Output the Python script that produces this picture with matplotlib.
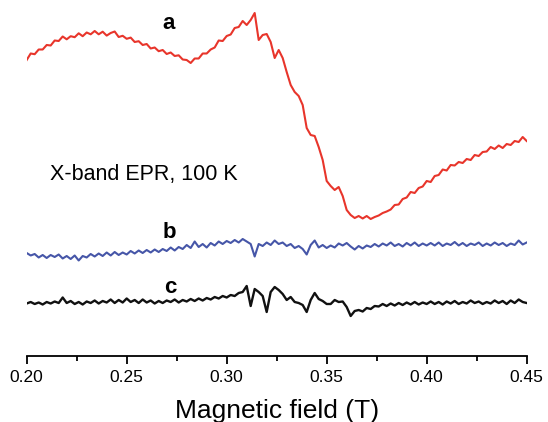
import matplotlib
matplotlib.use("Agg")
import matplotlib.pyplot as plt
import numpy as np
from matplotlib.ticker import MultipleLocator, FormatStrFormatter

plt.rcParams['font.family'] = ['Liberation Sans', 'DejaVu Sans']

# magnetic field sweep (T), 0.002 T steps
field = np.round(np.arange(0.200, 0.4501, 0.002), 3)

# trace a (red), arbitrary units
sig_a = [296, 302.5, 301.8, 306.5, 306.5, 311, 310.5, 315.5, 315, 319.5,
         316.7, 319.8, 318.8, 322.7, 319.8, 323.5, 321.7, 325, 321.7, 324.3,
         320.4, 323, 324.5, 319, 320.2, 317.2, 318.4, 314, 314.8, 311,
         312, 307.5, 308.5, 304.8, 306, 302, 303.5, 300, 300.7, 296.5,
         296, 293, 297.5, 297.5, 302.5, 302.5, 306.5, 308.5, 315.5, 315,
         320, 321.5, 328, 329, 335, 331, 336, 343, 316, 321,
         322, 314, 298, 306, 298, 284, 271, 264, 260, 251,
         228, 221, 220, 209, 196, 175, 170, 166, 169, 160,
         146, 141, 138, 140, 137.5, 140, 137, 139, 140.5, 143,
         144.5, 146.5, 151, 151.5, 157, 158.5, 164, 163, 168, 169.5,
         175, 174, 180, 181, 186.5, 185.5, 191, 190.5, 194, 193,
         197, 196, 201, 200, 204, 204.5, 209, 207, 210.5, 208,
         212, 211, 215, 214, 219, 215]

# trace b (blue)
sig_b = [103, 100.5, 102, 98.5, 101, 98, 101, 99, 101.5, 97.5,
         100, 97, 100.5, 95.5, 100, 98.5, 102, 99.5, 102.5, 100,
         103.5, 100.5, 104, 101, 103.5, 101.5, 105, 102.5, 105.5, 103,
         106, 103.5, 106.5, 104, 107, 105, 108.5, 105.5, 109, 107,
         111, 108, 114.5, 109, 112, 108.5, 113, 110.5, 114.5, 112,
         115, 113, 116, 113.5, 117, 114.5, 112, 99.5, 112, 110,
         113.5, 111, 115.5, 112, 113.5, 110, 112, 108, 110, 107,
         101.5, 111, 115.5, 108.5, 111, 108, 110.5, 108.5, 112.5, 110.5,
         113, 109.5, 106.5, 110, 107.5, 110.5, 109, 112, 109.5, 112.5,
         110.5, 113.5, 110, 112, 109.5, 113, 110.5, 113.5, 110, 112.5,
         110.5, 113, 110.5, 113.5, 110, 112.5, 111, 114, 110.5, 113,
         110, 112.5, 111, 113.5, 110, 112.5, 110.5, 113.5, 111, 113,
         110, 112.5, 111, 115.5, 111.5, 113.5]

# trace c (black)
sig_c = [52.5, 54, 52, 53.5, 51.5, 54, 52.5, 54.5, 53, 58.5,
         53, 55, 52, 54, 51.5, 54.5, 53, 55.5, 52.5, 55,
         53.5, 56.5, 53, 56, 53.5, 57.5, 54, 56, 53, 56.5,
         53.5, 55.5, 52.5, 55, 53, 55.5, 54, 56.5, 53.5, 56,
         54.5, 57, 55, 57.5, 55.5, 58, 56.5, 59, 57.5, 60,
         58.5, 61, 60, 63, 64, 70, 50, 67, 64, 60,
         44, 64, 69, 66, 62, 56, 59, 54, 53, 51,
         44, 56, 63, 57, 55, 52, 52, 56, 54, 54.5,
         49, 40, 45, 46, 44.5, 48, 47, 50, 49.5, 52,
         50, 52.5, 50.5, 53, 51, 53.5, 51.5, 54, 51.5, 53.5,
         52, 54.5, 52, 54, 51.5, 54.5, 52.5, 55, 52, 54,
         52.5, 55.5, 53, 54.5, 52, 54, 52.5, 55.5, 53, 55,
         52, 55.5, 53, 56.5, 54, 53]

fig = plt.figure(figsize=(5.48, 4.22), dpi=100)
ax = fig.add_axes([0.0487, 0.1564, 0.9124, 0.8436])

ax.plot(field, sig_a, color='#e8352b', lw=1.5)
ax.plot(field, sig_b, color='#4656a8', lw=1.5)
ax.plot(field, sig_c, color='#111111', lw=1.7)

ax.text(0.2707, 332, 'a', fontsize=16, fontweight='bold', ha='center', va='center')
ax.text(0.2712, 123, 'b', fontsize=16, fontweight='bold', ha='center', va='center')
ax.text(0.2717, 68, 'c', fontsize=16, fontweight='bold', ha='center', va='center')
ax.text(0.2117, 181, 'X-band EPR, 100 K', fontsize=15.5, ha='left', va='center')

ax.set_xlim(0.20, 0.45)
ax.set_ylim(0, 356)
for s in ['left', 'right', 'top']:
    ax.spines[s].set_visible(False)
ax.spines['bottom'].set_linewidth(1.3)
ax.set_yticks([])
ax.xaxis.set_major_locator(MultipleLocator(0.05))
ax.xaxis.set_minor_locator(MultipleLocator(0.025))
ax.xaxis.set_major_formatter(FormatStrFormatter('%.2f'))
ax.tick_params(axis='x', which='major', direction='out', length=6, width=1.3,
               labelsize=12.5, pad=4)
ax.tick_params(axis='x', which='minor', direction='out', length=3.5, width=1.3)
ax.set_xlabel('Magnetic field (T)', fontsize=19)
ax.xaxis.label.set_va('center')
ax.xaxis.set_label_coords(0.5, -0.155)

fig.savefig('out.png', dpi=100)
